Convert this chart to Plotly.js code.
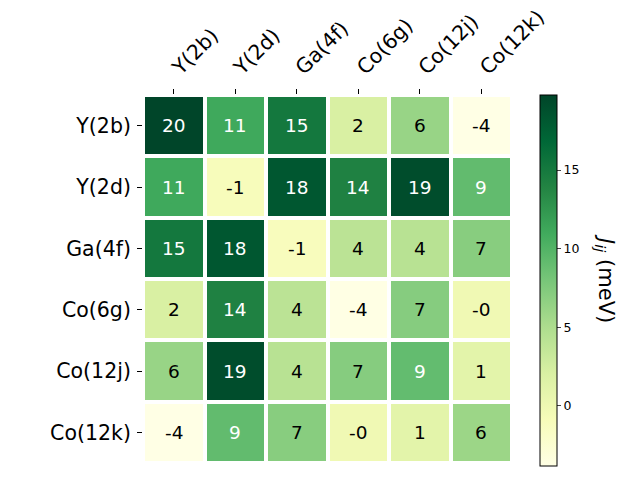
<!DOCTYPE html>
<html>
<head>
<meta charset="utf-8">
<script src="https://cdn.plot.ly/plotly-3.0.1.min.js"></script>
<style>body{margin:0;padding:0;}#chart{width:640px;height:480px;}</style>
</head>
<body>
<div id="chart"></div>
<script>
const sites = ["Y(2b)", "Y(2d)", "Ga(4f)", "Co(6g)", "Co(12j)", "Co(12k)"];
const rowY2b  = [19.8, 11.1, 15.2, 2.1, 6.2, -3.8];
const rowY2d  = [11.1, -1.0, 18.3, 14.2, 19.1, 9.2];
const rowGa4f = [15.2, 18.3, -1.1, 4.1, 4.3, 7.1];
const rowCo6g = [2.1, 14.2, 4.1, -3.7, 7.2, -0.2];
const rowCo12j = [6.2, 19.1, 4.3, 7.2, 9.1, 1.1];
const rowCo12k = [-3.8, 9.2, 7.1, -0.2, 1.1, 6.0];
const z = [rowY2b, rowY2d, rowGa4f, rowCo6g, rowCo12j, rowCo12k];
const cbTicks = [0, 5, 10, 15];

const ylgn = [
  [0.0, "#ffffe5"], [0.125, "#f7fcb9"], [0.25, "#d9f0a3"], [0.375, "#addd8e"],
  [0.5, "#78c679"], [0.625, "#41ab5d"], [0.75, "#238443"], [0.875, "#006837"], [1.0, "#004529"]
];

let zmin = Infinity, zmax = -Infinity;
z.forEach(r => r.forEach(v => { zmin = Math.min(zmin, v); zmax = Math.max(zmax, v); }));

const annotations = [];
z.forEach((row, i) => row.forEach((v, j) => {
  annotations.push({
    x: sites[j], y: sites[i], xref: "x", yref: "y",
    text: v.toFixed(0), showarrow: false,
    font: {family: "DejaVu Sans", size: 18.5, color: (v - zmin) / (zmax - zmin) > 0.5 ? "white" : "black"}
  });
}));
annotations.push({
  xref: "paper", yref: "paper", x: 1.252, y: 0.5, xanchor: "center", yanchor: "middle",
  text: "<i>J</i><sub><i>ij</i></sub> (meV)", textangle: 90, showarrow: false,
  font: {family: "DejaVu Sans", size: 21, color: "black"}
});

const trace = {
  type: "heatmap", x: sites, y: sites, z: z,
  colorscale: ylgn, zmin: zmin, zmax: zmax, xgap: 4, ygap: 4,
  colorbar: {
    x: 1.076, xanchor: "left", xpad: 0, ypad: 0, thickness: 17, thicknessmode: "pixels",
    len: 371, lenmode: "pixels", y: 0.497, yanchor: "middle",
    outlinewidth: 1, outlinecolor: "black",
    tickvals: cbTicks, ticks: "outside", ticklen: 4,
    tickfont: {family: "DejaVu Sans", size: 12.5, color: "black"}
  }
};

const layout = {
  width: 640, height: 480,
  margin: {l: 143, r: 128, t: 95, b: 17},
  paper_bgcolor: "white", plot_bgcolor: "white",
  font: {family: "DejaVu Sans", color: "black"},
  xaxis: {side: "top", tickangle: -45, ticks: "outside", ticklen: 5, tickcolor: "black",
          ticklabelstandoff: 2,
          tickfont: {size: 20.5}, showgrid: false, zeroline: false, showline: false},
  yaxis: {autorange: "reversed", ticks: "outside", ticklen: 5, tickcolor: "black",
          ticklabelstandoff: 2,
          tickfont: {size: 20.5}, showgrid: false, zeroline: false, showline: false},
  annotations: annotations
};

Plotly.newPlot("chart", [trace], layout, {displayModeBar: false, staticPlot: true});
</script>
</body>
</html>
